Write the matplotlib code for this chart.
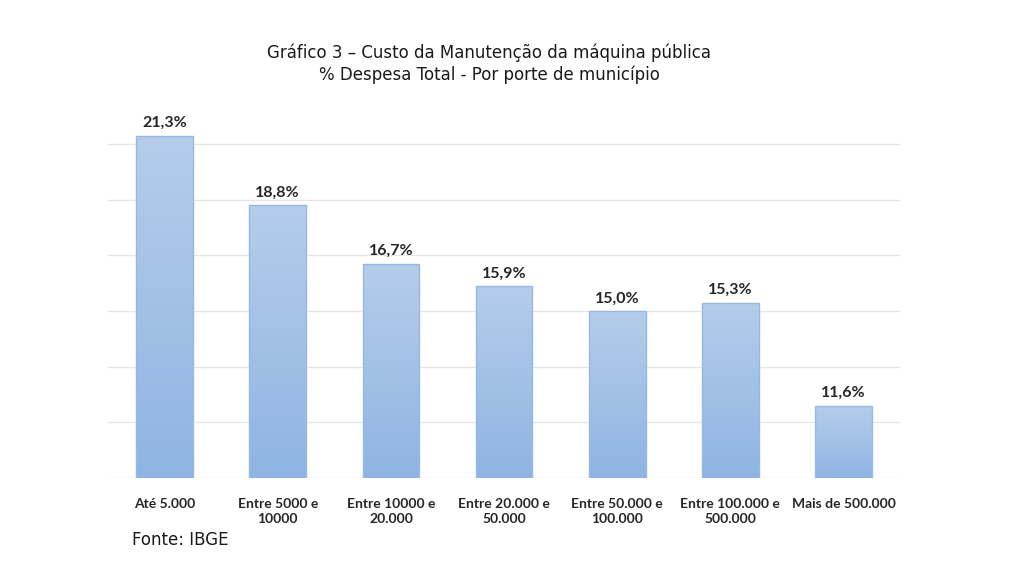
import numpy as np
import matplotlib
matplotlib.use('Agg')
import matplotlib.pyplot as plt
from matplotlib.colors import LinearSegmentedColormap

categories = ['Até 5.000', 'Entre 5000 e\n10000', 'Entre 10000 e\n20.000', 'Entre 20.000 e\n50.000',
              'Entre 50.000 e\n100.000', 'Entre 100.000 e\n500.000', 'Mais de 500.000']
values = [21.3, 18.8, 16.7, 15.9, 15.0, 15.3, 11.6]
labels = ['21,3%', '18,8%', '16,7%', '15,9%', '15,0%', '15,3%', '11,6%']

fig = plt.figure(figsize=(10.24, 5.62), dpi=100)
ax = fig.add_axes([0.1055, 0.1495, 0.7735, 0.6935])

x = np.arange(len(values))
ymin = 9
bars = ax.bar(x, np.array(values) - ymin, bottom=ymin, width=0.5,
              facecolor='none', edgecolor='#96b9e4', linewidth=1, zorder=3)

# vertical gradient fill, like the Excel bars
cmap = LinearSegmentedColormap.from_list('g', ['#8fb4e3', '#b5cdea'])
grad = np.linspace(0, 1, 256).reshape(-1, 1)
for b in bars:
    bx, by = b.get_x(), b.get_y()
    im = ax.imshow(grad, cmap=cmap, aspect='auto', origin='lower',
                   extent=[bx, bx + b.get_width(), by, by + b.get_height()], zorder=2)
    im.set_clip_path(b)

for xi, v, lab in zip(x, values, labels):
    ax.annotate(lab, (xi, v), xytext=(0, 4), textcoords='offset points',
                ha='center', va='bottom', fontsize=11.5, fontweight='bold',
                family='Lato', color='#262626')

ax.set_xlim(-0.5, len(values) - 0.5)
ax.set_ylim(ymin, 23)
ax.set_yticks(np.arange(9, 22, 2))
ax.yaxis.grid(True, color='#e6e6e6', linewidth=1)
ax.set_axisbelow(True)
ax.tick_params(left=False, bottom=False, labelleft=False)
ax.set_xticks(x)
ax.set_xticklabels(categories, fontsize=10, fontweight='bold', family='Lato',
                   color='#262626', linespacing=1.3)
ax.tick_params(axis='x', pad=11)
for s in ax.spines.values():
    s.set_visible(False)

fig.text(0.478, 0.906, 'Gráfico 3 – Custo da Manutenção da máquina pública', ha='center',
         va='center', fontsize=12, family='DejaVu Sans', color='#1a1a1a')
fig.text(0.478, 0.867, '% Despesa Total - Por porte de município', ha='center',
         va='center', fontsize=12, family='DejaVu Sans', color='#1a1a1a')
fig.text(0.129, 0.04, 'Fonte: IBGE', ha='left', va='center', fontsize=12,
         family='DejaVu Sans', color='#1a1a1a')

fig.savefig('out.png', dpi=100)
